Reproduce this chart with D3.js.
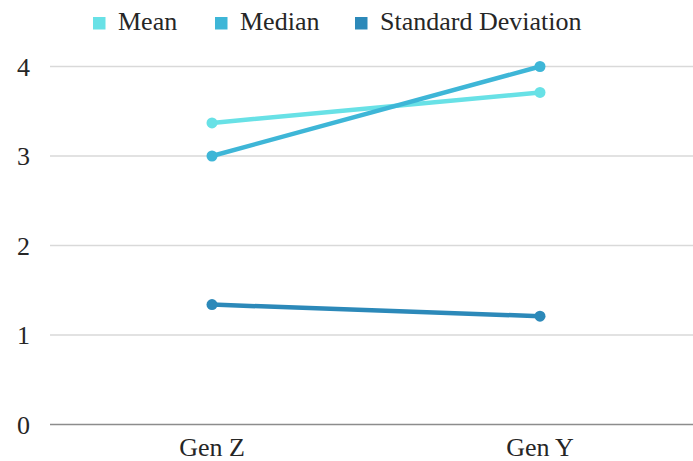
<!DOCTYPE html>
<html>
<head>
<meta charset="utf-8">
<script src="https://cdn.jsdelivr.net/npm/d3@7"></script>
<style>
  html, body { margin: 0; padding: 0; background: #fff; }
  svg { display: block; }
</style>
</head>
<body>
<svg id="chart" width="693" height="461"></svg>
<script>
const categories = ["Gen Z", "Gen Y"];
const seriesNames = ["Mean", "Median", "Standard Deviation"];
const meanValues = [3.37, 3.71];
const medianValues = [3.0, 4.0];
const sdValues = [1.34, 1.21];
const yTicks = [0, 1, 2, 3, 4];
const colors = ["#68e1e6", "#3eb6d7", "#2c89b9"];

const series = [
  { name: seriesNames[0], values: meanValues, color: colors[0] },
  { name: seriesNames[1], values: medianValues, color: colors[1] },
  { name: seriesNames[2], values: sdValues, color: colors[2] }
];

const FONT = "'Liberation Serif', 'Times New Roman', Times, 'DejaVu Serif', serif";
const W = 693, H = 461;
const plotLeft = 50, plotRight = 693;
const svg = d3.select("#chart").attr("font-family", FONT);

const x = d3.scalePoint().domain(categories).range([48, 704]).padding(0.5);
const y = d3.scaleLinear().domain([0, 4]).range([424.5, 66.5]);

// gridlines
svg.append("g").selectAll("line")
  .data(yTicks.filter(t => t !== 0))
  .join("line")
  .attr("x1", plotLeft).attr("x2", plotRight)
  .attr("y1", d => y(d)).attr("y2", d => y(d))
  .attr("stroke", "#d9d9d9").attr("stroke-width", 1.3);

// baseline axis
svg.append("line")
  .attr("x1", plotLeft).attr("x2", plotRight)
  .attr("y1", y(0)).attr("y2", y(0))
  .attr("stroke", "#8c8c8c").attr("stroke-width", 1.3);

// y tick labels
svg.append("g").selectAll("text")
  .data(yTicks)
  .join("text")
  .attr("font-family", FONT)
  .attr("x", 30).attr("y", d => y(d))
  .attr("dy", "0.35em")
  .attr("text-anchor", "end")
  .attr("font-size", 26)
  .attr("fill", "#262626")
  .text(d => d);

// x labels
svg.append("g").selectAll("text")
  .data(categories)
  .join("text")
  .attr("font-family", FONT)
  .attr("x", d => x(d)).attr("y", 456)
  .attr("text-anchor", "middle")
  .attr("font-size", 26)
  .attr("fill", "#262626")
  .text(d => d);

// lines
const line = d3.line().x((d, i) => x(categories[i])).y(d => y(d));
const g = svg.append("g");
series.forEach(s => {
  g.append("path")
    .attr("d", line(s.values))
    .attr("fill", "none")
    .attr("stroke", s.color)
    .attr("stroke-width", 4.5)
    .attr("stroke-linecap", "round");
  g.selectAll(null)
    .data(s.values)
    .join("circle")
    .attr("cx", (d, i) => x(categories[i]))
    .attr("cy", d => y(d))
    .attr("r", 5.5)
    .attr("fill", s.color);
});

// legend
const legendX = [93, 215, 355];
const lg = svg.append("g");
series.forEach((s, i) => {
  lg.append("rect")
    .attr("x", legendX[i]).attr("y", 17)
    .attr("width", 12.5).attr("height", 12.5)
    .attr("fill", s.color);
  lg.append("text")
    .attr("font-family", FONT)
    .attr("x", legendX[i] + 25).attr("y", 30)
    .attr("font-size", 26)
    .attr("fill", "#262626")
    .text(s.name);
});
</script>
</body>
</html>
